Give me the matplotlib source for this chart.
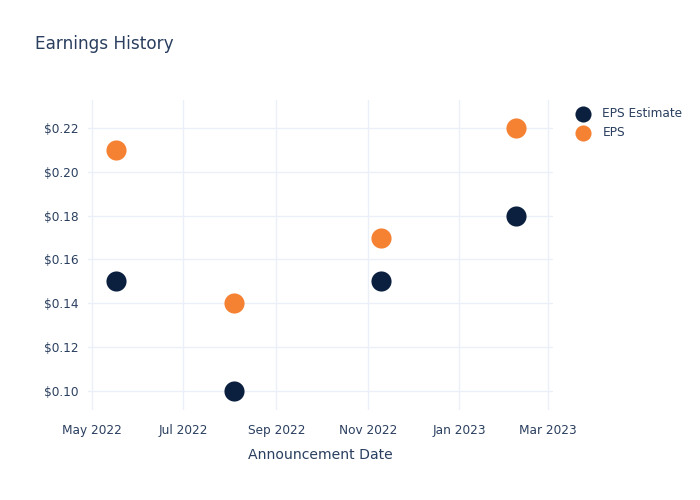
import matplotlib
matplotlib.use('Agg')
import matplotlib.pyplot as plt
import matplotlib.dates as mdates
import matplotlib.ticker as mticker
import pandas as pd

# === data ===
dates = ["2022-05-17", "2022-08-04", "2022-11-10", "2023-02-08"]
eps_estimate = [0.15, 0.10, 0.15, 0.18]
eps_actual = [0.21, 0.14, 0.17, 0.22]
y_ticks = [0.10, 0.12, 0.14, 0.16, 0.18, 0.20, 0.22]
x_ticks = ["2022-05-01", "2022-07-01", "2022-09-01", "2022-11-01", "2023-01-01", "2023-03-01"]

TEXT = "#2a3f5f"
GRID = "#ebf0f8"
NAVY = "#0b1f3f"
ORANGE = "#f58133"

x = pd.to_datetime(dates)

fig = plt.figure(figsize=(7, 5), dpi=100)
ax = fig.add_axes([0.126, 0.18, 0.664, 0.62])

ax.scatter(x, eps_estimate, s=210, color=NAVY, label="EPS Estimate", zorder=3, linewidths=0)
ax.scatter(x, eps_actual, s=210, color=ORANGE, label="EPS", zorder=3, linewidths=0)

ax.set_xlim(pd.Timestamp("2022-04-28 12:00"), pd.Timestamp("2023-03-04 12:00"))
ax.set_ylim(0.0913, 0.2328)

ax.set_xticks(pd.to_datetime(x_ticks))
ax.xaxis.set_major_formatter(mdates.DateFormatter("%b %Y"))
ax.set_yticks(y_ticks)
ax.yaxis.set_major_formatter(mticker.FuncFormatter(lambda v, _: f"${v:.2f}"))

ax.grid(True, color=GRID, linewidth=1)
ax.set_axisbelow(True)
for s in ax.spines.values():
    s.set_visible(False)
ax.tick_params(axis="both", length=0, labelsize=8.7, labelcolor=TEXT)
ax.tick_params(axis="x", pad=10)
ax.tick_params(axis="y", pad=7)

ax.set_xlabel("Announcement Date", fontsize=10.1, color=TEXT, labelpad=8)
fig.text(0.05, 0.912, "Earnings History", fontsize=12.2, color=TEXT, va="center")

ax.legend(loc="upper left", bbox_to_anchor=(1.015, 1.012), frameon=False,
          fontsize=8.7, labelcolor=TEXT, markerscale=0.8, handletextpad=0.6,
          labelspacing=0.5)

fig.savefig("out.png", dpi=100)
